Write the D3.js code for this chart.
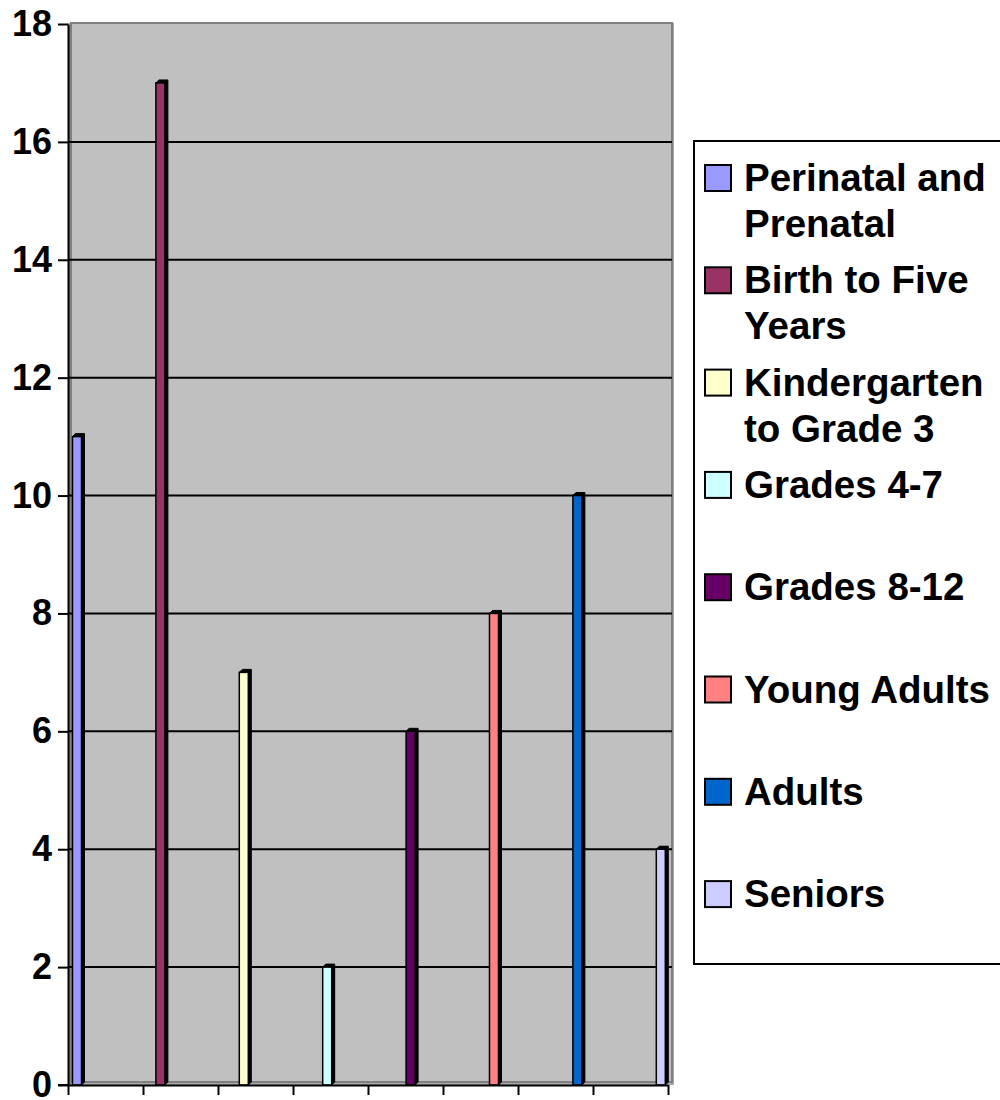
<!DOCTYPE html>
<html>
<head>
<meta charset="utf-8">
<script src="https://cdn.jsdelivr.net/npm/d3@7"></script>
<style>
  body { margin: 0; background: #fff; }
  svg { display: block; font-family: "Liberation Sans", Arial, sans-serif; font-weight: bold; }
</style>
</head>
<body>
<div id="chart"></div>
<script>
// data
var categories = ["Perinatal and Prenatal", "Birth to Five Years", "Kindergarten to Grade 3",
  "Grades 4-7", "Grades 8-12", "Young Adults", "Adults", "Seniors"];
var values = [11, 17, 7, 2, 6, 8, 10, 4];
var colors = ["#9999FF", "#993366", "#FFFFCC", "#CCFFFF", "#660066", "#FF8080", "#0066CC", "#CCCCFF"];
var legendLines = [["Perinatal and", "Prenatal"], ["Birth to Five", "Years"], ["Kindergarten", "to Grade 3"],
  ["Grades 4-7"], ["Grades 8-12"], ["Young Adults"], ["Adults"], ["Seniors"]];
var yTicks = [0, 2, 4, 6, 8, 10, 12, 14, 16, 18];

var width = 1000, height = 1100;
var plotLeft = 68, plotRight = 672, plotTop = 24, plotBottom = 1085;
var depth = 3;

var svg = d3.select("#chart").append("svg")
  .attr("width", width)
  .attr("height", height);

var yScale = d3.scaleLinear().domain([0, 18]).range([plotBottom, plotTop]);
var xScale = d3.scaleBand().domain(categories).range([72.5, 665.3]).paddingInner(0.892).paddingOuter(0);
var tickScale = d3.scaleLinear().domain([0, 8]).range([plotLeft, 668]);

// walls
svg.append("rect")
  .attr("x", plotLeft).attr("y", plotTop - 1)
  .attr("width", plotRight - plotLeft + 2).attr("height", plotBottom - plotTop + 1)
  .attr("fill", "#A8A8A8");
svg.append("rect")
  .attr("x", plotLeft + 3).attr("y", plotTop - 1)
  .attr("width", plotRight - plotLeft - 3).attr("height", plotBottom - plotTop - 2)
  .attr("fill", "#C0C0C0")
  .attr("stroke", "#808080").attr("stroke-width", 2);
svg.append("rect")
  .attr("x", plotLeft).attr("y", plotTop + 2)
  .attr("width", 3).attr("height", plotBottom - plotTop - 2)
  .attr("fill", "#808080");

// gridlines
svg.append("g").selectAll("line")
  .data(yTicks.filter(function(d) { return d > 0 && d < 18; }))
  .enter().append("line")
  .attr("x1", plotLeft).attr("x2", plotRight)
  .attr("y1", function(d) { return yScale(d); })
  .attr("y2", function(d) { return yScale(d); })
  .attr("stroke", "#000").attr("stroke-width", 2);

// bars (thin 3d columns)
var bars = svg.append("g").selectAll("g")
  .data(categories)
  .enter().append("g");

bars.append("path")
  .attr("d", function(d, i) {
    var x = xScale(d), w = xScale.bandwidth(), y = yScale(values[i]);
    return "M" + x + "," + y + "L" + (x + depth) + "," + (y - depth) + "L" + (x + w + depth) + "," + (y - depth) +
      "L" + (x + w + depth) + "," + (plotBottom - depth) + "L" + (x + w) + "," + plotBottom + "L" + (x + w) + "," + y + "Z";
  })
  .attr("fill", "#000")
  .attr("stroke", "#000").attr("stroke-width", 1);

bars.append("rect")
  .attr("x", function(d) { return xScale(d); })
  .attr("y", function(d, i) { return yScale(values[i]); })
  .attr("width", xScale.bandwidth())
  .attr("height", function(d, i) { return plotBottom - yScale(values[i]); })
  .attr("fill", function(d, i) { return colors[i]; })
  .attr("stroke", "#000").attr("stroke-width", 1.5);

// axes
var yAxis = svg.append("g")
  .attr("transform", "translate(" + plotLeft + ",0)")
  .call(d3.axisLeft(yScale).tickValues(yTicks).tickSizeInner(10).tickSizeOuter(0).tickPadding(6));
yAxis.select(".domain").attr("stroke", "#000").attr("stroke-width", 2);
yAxis.selectAll(".tick line").attr("stroke", "#000").attr("stroke-width", 2);
yAxis.selectAll(".tick text")
  .attr("fill", "#000")
  .style("font-family", "'Liberation Sans', Arial, sans-serif")
  .style("font-weight", "bold")
  .style("font-size", "36px");

var xAxis = svg.append("g")
  .attr("transform", "translate(0," + plotBottom + ")")
  .call(d3.axisBottom(tickScale).ticks(8).tickFormat("").tickSizeInner(10).tickSizeOuter(0));
xAxis.select(".domain").attr("stroke", "#000").attr("stroke-width", 2);
xAxis.selectAll(".tick line").attr("stroke", "#000").attr("stroke-width", 2);
svg.append("line")
  .attr("x1", plotLeft - 10).attr("x2", plotLeft)
  .attr("y1", plotBottom).attr("y2", plotBottom)
  .attr("stroke", "#000").attr("stroke-width", 2);

// legend
var legend = svg.append("g");
legend.append("rect")
  .attr("x", 694).attr("y", 141)
  .attr("width", 320).attr("height", 823)
  .attr("fill", "#fff")
  .attr("stroke", "#000").attr("stroke-width", 2);

var items = legend.selectAll(".item")
  .data(categories)
  .enter().append("g")
  .attr("class", "item")
  .attr("transform", function(d, i) { return "translate(0," + (191 + i * 102.3) + ")"; });

items.append("rect")
  .attr("x", 705).attr("y", -26)
  .attr("width", 26).attr("height", 26)
  .attr("fill", function(d, i) { return colors[i]; })
  .attr("stroke", "#000").attr("stroke-width", 2);

items.append("text")
  .attr("x", 744)
  .style("font-size", "38.5px")
  .attr("fill", "#000")
  .selectAll("tspan")
  .data(function(d, i) { return legendLines[i]; })
  .enter().append("tspan")
  .attr("x", 744)
  .attr("dy", function(d, j) { return j === 0 ? 0 : 46; })
  .text(function(d) { return d; });
</script>
</body>
</html>
